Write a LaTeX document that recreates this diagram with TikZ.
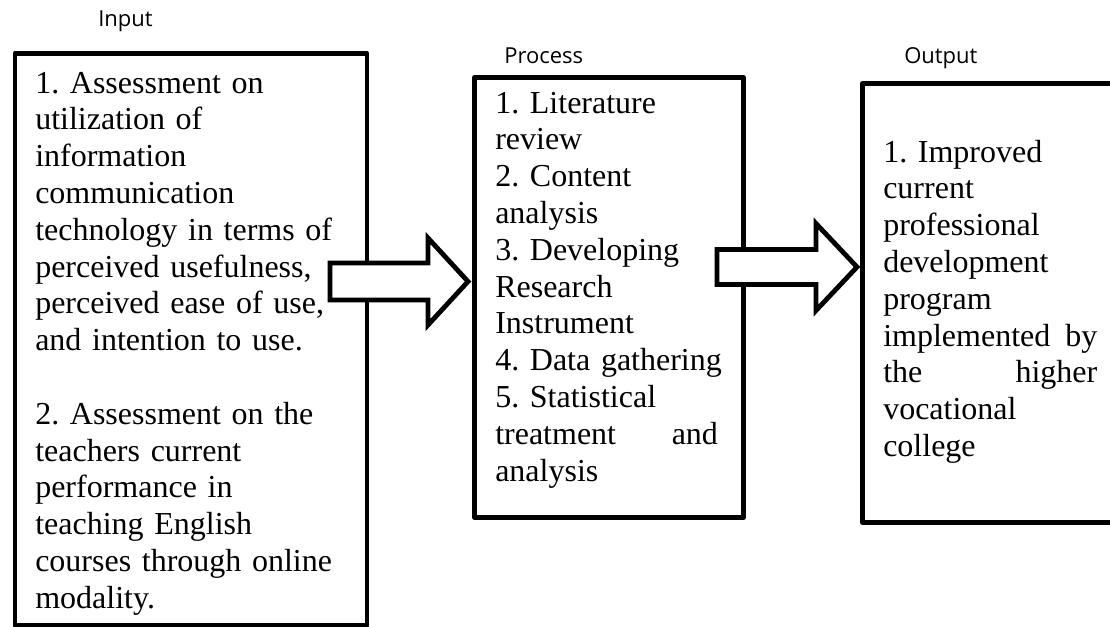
\documentclass[tikz,border=0pt]{standalone}
\usepackage{fontspec}
\setmainfont{Liberation Serif}
\setsansfont{Open Sans}
\newcommand\boxtextfont{\fontsize{24}{27.6}\selectfont\frenchspacing\hyphenpenalty 10000\relax}
\tikzset{x=0.75pt, y=-0.75pt,
  frame/.style={draw, line width=3.6pt, inner sep=0pt, anchor=north west, line join=round},
  body/.style={anchor=base west, inner sep=0pt, align=left, font=\boxtextfont},
  heading/.style={anchor=base west, inner sep=0pt, font=\sffamily\fontsize{16.5}{20}\selectfont},
  fatarrow/.style={draw, fill=white, line width=3.6pt, line join=miter}}

\begin{document}
\begin{tikzpicture}
  \useasboundingbox (0,0) rectangle (1110,626);
  % the three boxes
  \node[frame, minimum width=264pt, minimum height=429pt]      (inbox)   at (12.5,51) {};
  \node[frame, minimum width=201.75pt, minimum height=330pt]   (procbox) at (472,75)  {};
  \node[frame, minimum width=202.5pt, minimum height=329.25pt] (outbox)  at (860,81)  {};
  % headings
  \node[heading] (inlabel)   at (98,26)  {Input};
  \node[heading] (proclabel) at (504,63) {Process};
  \node[heading] (outlabel)  at (904,63) {Output};
  % box texts
  \node[body, text width=240pt] (intext) at (35,93) {1. Assessment on\\
    utilization of\\ information\\ communication\\ technology in terms of\\
    perceived usefulness,\\ perceived ease of use,\\ and intention to use.\\[27.6pt]
    2. Assessment on the\\ teachers current\\ performance in\\ teaching English\\
    courses through online\\ modality.};
  \node[body, text width=167pt] (proctext) at (495,113) {1. Literature\\ review\\
    2. Content\\ analysis\\ 3. Developing\\ Research\\ Instrument\\
    \mbox{4. Data gathering}\\ 5. Statistical\\ treatment\hfill and\\ analysis};
  \node[body, text width=160.5pt] (outtext) at (883,162) {1. Improved\\ current\\
    professional\\ development\\ program\\ implemented\hfill by\\ the\hfill higher\\
    vocational\\ college};
  % block arrows
  \coordinate (intail)   at (330,281.5);
  \coordinate (intip)    at (468,281.5);
  \coordinate (proctail) at (717,267);
  \coordinate (proctip)  at (857,267);
  \draw[fatarrow] (intail) ++(0,-18.5) -- ++(98,0) -- ++(0,-25) -- (intip)
    -- ++(-40,43.5) -- ++(0,-25) -- ++(-98,0) -- cycle;
  \draw[fatarrow] (proctail) ++(0,-17.5) -- ++(99,0) -- ++(0,-26) -- (proctip)
    -- ++(-41,43.5) -- ++(0,-26) -- ++(-99,0) -- cycle;
\end{tikzpicture}
\end{document}
